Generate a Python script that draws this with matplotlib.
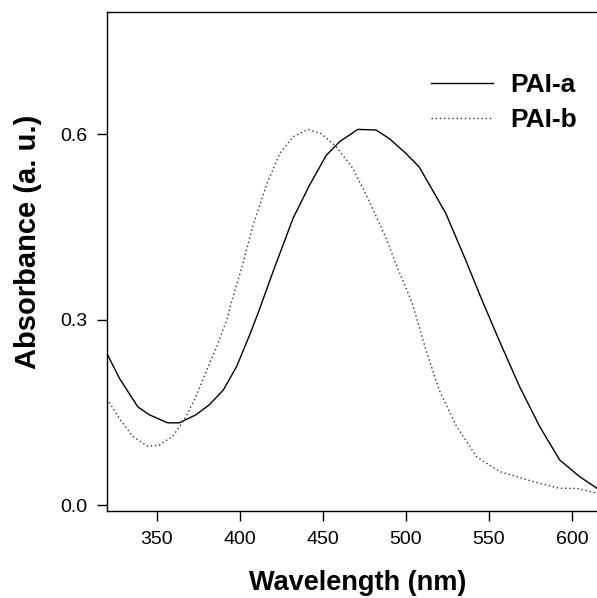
import matplotlib
matplotlib.use("Agg")
import matplotlib.pyplot as plt

plt.rcParams['font.family'] = ['Liberation Sans', 'DejaVu Sans']

# absorbance spectra
wl_a = [320, 327.5, 338.5, 345.5, 356.5, 363.5, 373.5, 381.5, 390, 398, 406,
        411, 420, 432, 442, 452, 460, 471, 482, 490, 500, 508, 524, 536, 546,
        550, 556, 568.5, 580.5, 592.5, 604.5, 615]
abs_a = [0.245, 0.205, 0.159, 0.146, 0.133, 0.133, 0.146, 0.162, 0.186, 0.224,
         0.276, 0.311, 0.378, 0.464, 0.518, 0.566, 0.588, 0.608, 0.607, 0.593,
         0.569, 0.547, 0.472, 0.396, 0.330, 0.305, 0.267, 0.191, 0.127, 0.073,
         0.046, 0.027]

wl_b = [320, 327.5, 335.5, 344.5, 351.5, 359.5, 366.5, 373.5, 380, 386, 392,
        395, 401, 408, 416, 424, 432, 441, 449, 458, 468, 478, 488, 495, 503.5,
        512, 520, 530.5, 542.5, 556.5, 576.5, 592.5, 602.5, 614]
abs_b = [0.172, 0.140, 0.111, 0.095, 0.097, 0.111, 0.138, 0.175, 0.218, 0.256,
         0.299, 0.329, 0.383, 0.453, 0.518, 0.569, 0.596, 0.608, 0.601, 0.580,
         0.545, 0.491, 0.432, 0.383, 0.329, 0.251, 0.186, 0.127, 0.078, 0.054,
         0.038, 0.027, 0.027, 0.020]

labels = ["PAI-a", "PAI-b"]
xticks = [350, 400, 450, 500, 550, 600]
yticks = [0.0, 0.3, 0.6]

fig = plt.figure(figsize=(5.97, 5.98), dpi=100)
ax = fig.add_axes([107 / 597, 1 - 511 / 598, 490 / 597, 499 / 598])

ax.plot(wl_a, abs_a, color='black', lw=1.0, label=labels[0])
ax.plot(wl_b, abs_b, color='#333333', lw=1.0, linestyle=(0, (1, 2)), label=labels[1])

ax.set_xlim(320, 615)
ax.set_ylim(-0.0097, 0.798)
ax.set_xticks(xticks)
ax.set_yticks(yticks)
ax.set_yticklabels(["%.1f" % v for v in yticks])
ax.tick_params(direction='out', length=7.2, width=1, labelsize=14, pad=7)
ax.spines['right'].set_visible(False)
for s in ['left', 'bottom', 'top']:
    ax.spines[s].set_linewidth(1.0)

ax.set_xlabel("Wavelength (nm)", fontsize=19.5, fontweight='bold')
ax.xaxis.set_label_coords(0.511, -0.118)
ax.set_ylabel("Absorbance (a. u.)", fontsize=21, fontweight='bold')
ax.yaxis.set_label_coords(-0.133, 0.539)

leg = ax.legend(loc='upper right', bbox_to_anchor=(0.96, 0.877), frameon=False,
                prop={'size': 19, 'weight': 'bold'}, handlelength=2.35,
                handletextpad=0.68, labelspacing=0.4, borderpad=0, borderaxespad=0)

fig.savefig("out.png", dpi=100)
